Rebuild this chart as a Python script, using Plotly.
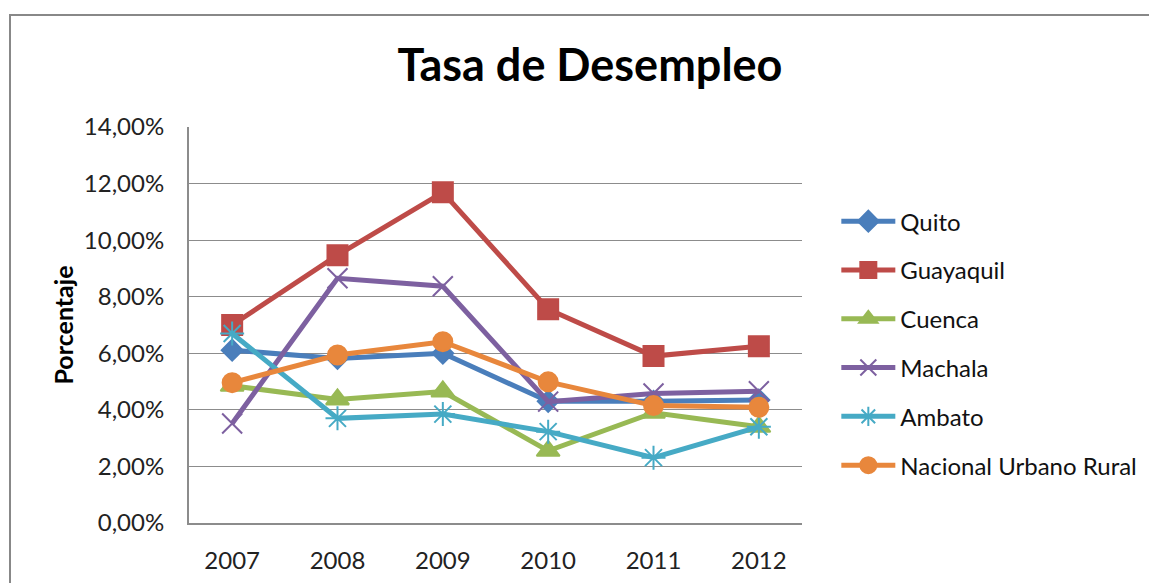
import plotly.graph_objects as go

years = ["2007", "2008", "2009", "2010", "2011", "2012"]

quito = [0.0611, 0.0582, 0.0600, 0.0430, 0.0430, 0.0435]
guayaquil = [0.0700, 0.0947, 0.1169, 0.0756, 0.0590, 0.0625]
cuenca = [0.0485, 0.0437, 0.0465, 0.0255, 0.0390, 0.0340]
machala = [0.0352, 0.0865, 0.0837, 0.0429, 0.0458, 0.0466]
ambato = [0.0670, 0.0370, 0.0385, 0.0323, 0.0231, 0.0340]
nacional = [0.0496, 0.0594, 0.0641, 0.0499, 0.0415, 0.0409]

series = [
    ("Quito", quito, "#4A7EBB", "diamond", 16),
    ("Guayaquil", guayaquil, "#BE4B48", "square", 20),
    ("Cuenca", cuenca, "#98B954", "triangle-up", 20),
    ("Machala", machala, "#7D60A0", "x-thin-open", 20),
    ("Ambato", ambato, "#46AAC5", "asterisk-open", 20),
    ("Nacional Urbano Rural", nacional, "#E8873C", "circle", 19),
]

fig = go.Figure()
for i, (name, vals, color, symbol, size) in enumerate(series):
    fig.add_trace(go.Scatter(
        x=years, y=vals, name=name, mode="lines+markers",
        legendgroup="g%d" % i,
        line=dict(color=color, width=5),
        marker=dict(symbol=symbol, size=size, color=color,
                    line=dict(color=color, width=2)),
    ))

# page body adds an 8px margin, so the figure is 8px smaller
fig.update_layout(
    width=1149, height=575,
    separators=",.",
    paper_bgcolor="white", plot_bgcolor="white",
    margin=dict(l=181, r=355, t=119, b=60, autoexpand=False),
    font=dict(family="Lato, 'Open Sans', sans-serif", color="#222222"),
    title=dict(text="<b>Tasa de Desempleo</b>", x=0.5065, xanchor="center",
               y=0.9, yanchor="middle",
               font=dict(size=45, color="#000000")),
    legend=dict(x=1.056, y=0.818, xanchor="left", yanchor="top",
                font=dict(size=24, color="#111111"),
                tracegroupgap=14.6, itemwidth=54),
    xaxis=dict(type="category", showgrid=False, showline=True,
               linecolor="#8C8C8C", linewidth=2, automargin=False,
               tickfont=dict(size=24), ticks="", ticklabelstandoff=15),
    yaxis=dict(range=[0, 0.14], dtick=0.02, tickformat=".2%",
               showgrid=True, gridcolor="#8C8C8C", gridwidth=1,
               showline=True, linecolor="#8C8C8C", linewidth=2,
               zeroline=False, ticks="", ticklabelstandoff=18,
               tickfont=dict(size=24), automargin=False,
               title=dict(text="<b>Porcentaje</b>", font=dict(size=25,
                          color="#000000"), standoff=3)),
    shapes=[dict(type="rect", xref="paper", yref="paper",
                 x0=-0.292, x1=1.8, y0=-0.3, y1=1.283,
                 line=dict(color="#888888", width=2))],
)

fig.write_html("out.html")
